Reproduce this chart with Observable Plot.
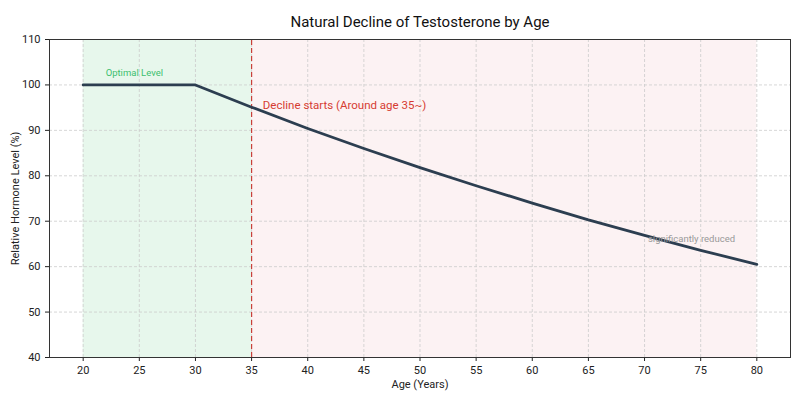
<!DOCTYPE html>
<html><head><meta charset="utf-8">
<script src="https://cdn.jsdelivr.net/npm/d3@7"></script>
<script src="https://cdn.jsdelivr.net/npm/@observablehq/plot@0.6"></script>
<style>body{margin:0;background:#fff;font-family:Roboto,"Open Sans",sans-serif;}</style>
</head><body><div id="chart"></div>
<script>
const ages = [20,25,30,35,40,45,50,55,60,65,70,75,80];
const levels = [100,100,100,95.1,90.4,86.0,81.8,77.8,74.0,70.3,66.9,63.6,60.5];
const xTicks = [20,25,30,35,40,45,50,55,60,65,70,75,80];
const yTicks = [40,50,60,70,80,90,100,110];
const zones = [{x1:20,x2:35,fill:"#e7f7ec"},{x1:35,x2:80,fill:"#fcf2f3"}];
const declineAge = [35];
const notes = [
  {x:22,y:102.6,text:"Optimal Level",color:"#3cbf6e",size:9.5},
  {x:36,y:95.5,text:"Decline starts (Around age 35~)",color:"#d63c32",size:11.5},
  {x:70.3,y:66,text:"significantly reduced",color:"#999",size:9.5}
];
const data = ages.map((a,i)=>({age:a,level:levels[i]}));
const chart = Plot.plot({
  width:800,height:400,
  marginTop:39,marginBottom:43,marginLeft:49,marginRight:10,
  style:{fontFamily:"Roboto, sans-serif",fontSize:"11px",color:"#222"},
  x:{domain:[17,83],ticks:xTicks,label:"Age (Years)",labelAnchor:"center",labelArrow:"none",labelOffset:30},
  y:{domain:[40,110],ticks:yTicks,label:"Relative Hormone Level (%)",labelAnchor:"center",labelArrow:"none",labelOffset:38},
  marks:[
    Plot.rectY(zones,{x1:"x1",x2:"x2",y1:40,y2:110,fill:d=>d.fill}),
    Plot.gridX(xTicks,{stroke:"#ccc",strokeOpacity:0.8,strokeDasharray:"3,2"}),
    Plot.gridY(yTicks,{stroke:"#ccc",strokeOpacity:0.8,strokeDasharray:"3,2"}),
    Plot.ruleX(declineAge,{stroke:"#c9403a",strokeDasharray:"5,3",strokeWidth:1.2,y1:40,y2:110}),
    Plot.line(data,{x:"age",y:"level",stroke:"#2c3e50",strokeWidth:2.8}),
    Plot.text(notes,{x:"x",y:"y",text:"text",fill:d=>d.color,fontSize:d=>d.size,textAnchor:"start"}),
    Plot.text(["Natural Decline of Testosterone by Age"],{frameAnchor:"top",dy:-23,fontSize:15,fill:"#111"}),
    Plot.axisX({ticks:xTicks,tickSize:4,fontSize:11,label:"Age (Years)",labelAnchor:"center",labelArrow:"none",labelOffset:30}),
    Plot.axisY({ticks:yTicks,tickSize:4,fontSize:11,label:"Relative Hormone Level (%)",labelAnchor:"center",labelArrow:"none",labelOffset:38}),
    Plot.frame({stroke:"#333",strokeWidth:1})
  ]
});
document.getElementById("chart").appendChild(chart);
</script></body></html>
